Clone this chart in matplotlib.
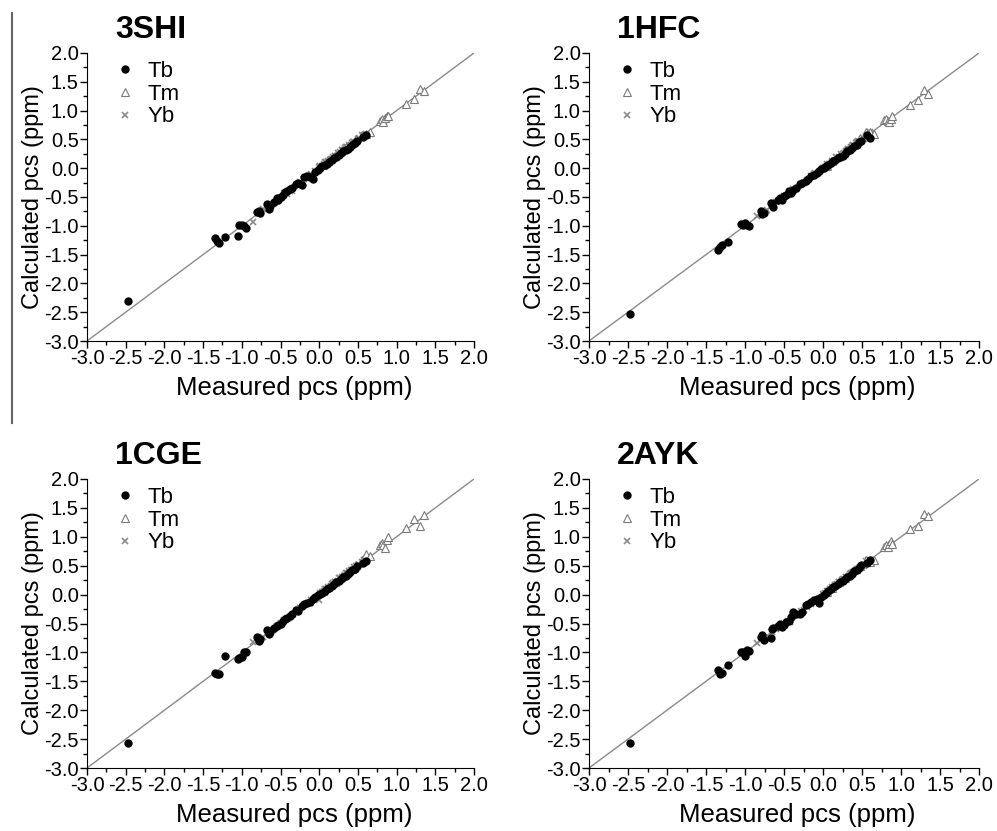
import numpy as np
from matplotlib import pyplot as plt
from matplotlib.lines import Line2D
from matplotlib.ticker import MultipleLocator

plt.rcParams['font.family'] = ['Liberation Sans', 'DejaVu Sans']

# measured pcs are the same for every structure
tb_measured = [-2.47, -1.35, -1.32, -1.29, -1.22, -1.05, -1.03, -1.00, -0.97, -0.95,
               -0.80, -0.78, -0.76, -0.67, -0.65, -0.64, -0.58, -0.55, -0.53, -0.50,
               -0.47, -0.44, -0.41, -0.38, -0.35, -0.30, -0.27, -0.22, -0.19, -0.16,
               -0.12, -0.08, -0.05, -0.02, 0.01, 0.04, 0.07, 0.10, 0.13, 0.16,
               0.19, 0.22, 0.25, 0.28, 0.31, 0.34, 0.37, 0.40, 0.43, 0.46,
               0.49, 0.57, 0.60]
tm_measured = [0.05, 0.12, 0.20, 0.28, 0.35, 0.42, 0.48, 0.55, 0.60, 0.65,
               0.78, 0.81, 0.83, 0.85, 0.87, 0.89, 1.12, 1.22, 1.30, 1.35]
yb_measured = [-0.85, -0.72, -0.60, -0.50, -0.42, -0.35, -0.28, -0.20, -0.15, -0.10,
               -0.05, 0.00, 0.03, 0.06, 0.09, 0.12, 0.15, 0.18, 0.21, 0.24,
               0.27, 0.30, 0.33, 0.36, 0.39, 0.42, 0.45, 0.50, 0.55, 0.60,
               -0.65, -0.55, -0.45, -0.38, -0.25, -0.12, 0.01, 0.05, 0.08, 0.11,
               0.14, 0.17, 0.20, 0.23, 0.26, 0.29, 0.32, 0.35, 0.38, 0.41,
               0.44, 0.47, 0.52, 0.58]

structures = ["3SHI", "1HFC", "1CGE", "2AYK"]

tb_calc_3shi = [-2.30, -1.22, -1.27, -1.30, -1.19, -1.18, -0.98, -0.99, -1.00, -1.03,
                -0.76, -0.75, -0.78, -0.63, -0.70, -0.66, -0.58, -0.52, -0.55, -0.50,
                -0.46, -0.42, -0.40, -0.36, -0.34, -0.27, -0.25, -0.30, -0.15, -0.13,
                -0.16, -0.18, -0.07, -0.03, 0.00, 0.03, 0.06, 0.08, 0.11, 0.14,
                0.17, 0.20, 0.23, 0.26, 0.29, 0.31, 0.34, 0.37, 0.41, 0.44,
                0.47, 0.55, 0.58]
tb_calc_1hfc = [-2.53, -1.42, -1.36, -1.33, -1.28, -0.97, -0.98, -0.96, -0.99, -1.00,
                -0.75, -0.80, -0.78, -0.60, -0.63, -0.68, -0.55, -0.52, -0.56, -0.48,
                -0.46, -0.40, -0.43, -0.37, -0.34, -0.28, -0.26, -0.22, -0.18, -0.14,
                -0.11, -0.09, -0.05, -0.02, 0.00, 0.03, 0.06, 0.09, 0.12, 0.14,
                0.17, 0.19, 0.22, 0.25, 0.29, 0.32, 0.35, 0.38, 0.41, 0.45,
                0.47, 0.58, 0.53]
tb_calc_1cge = [-2.57, -1.36, -1.37, -1.37, -1.07, -1.12, -1.10, -1.08, -0.99, -1.00,
                -0.74, -0.80, -0.77, -0.62, -0.68, -0.65, -0.57, -0.55, -0.53, -0.50,
                -0.45, -0.43, -0.40, -0.37, -0.33, -0.26, -0.28, -0.20, -0.16, -0.14,
                -0.13, -0.08, -0.05, -0.01, 0.01, 0.03, 0.07, 0.09, 0.12, 0.15,
                0.18, 0.21, 0.24, 0.27, 0.30, 0.33, 0.36, 0.39, 0.42, 0.45,
                0.50, 0.55, 0.58]
tb_calc_2ayk = [-2.57, -1.30, -1.37, -1.35, -1.21, -0.99, -1.00, -1.07, -0.95, -0.97,
                -0.74, -0.70, -0.78, -0.75, -0.60, -0.58, -0.55, -0.50, -0.56, -0.52,
                -0.48, -0.45, -0.38, -0.30, -0.33, -0.34, -0.30, -0.18, -0.16, -0.12,
                -0.10, -0.08, -0.15, -0.04, 0.00, 0.03, 0.06, 0.10, 0.13, 0.15,
                0.18, 0.21, 0.24, 0.27, 0.30, 0.32, 0.36, 0.40, 0.43, 0.46,
                0.52, 0.55, 0.60]

tm_calc_3shi = [0.06, 0.12, 0.22, 0.30, 0.36, 0.44, 0.50, 0.58, 0.60, 0.62,
                0.82, 0.85, 0.80, 0.88, 0.90, 0.90, 1.12, 1.21, 1.38, 1.34]
tm_calc_1hfc = [0.04, 0.13, 0.21, 0.31, 0.38, 0.45, 0.52, 0.62, 0.62, 0.60,
                0.84, 0.86, 0.82, 0.80, 0.86, 0.90, 1.10, 1.19, 1.36, 1.29]
tm_calc_1cge = [0.06, 0.14, 0.22, 0.30, 0.37, 0.44, 0.51, 0.60, 0.70, 0.66,
                0.85, 0.90, 0.86, 0.80, 0.95, 0.99, 1.16, 1.30, 1.19, 1.37]
tm_calc_2ayk = [0.05, 0.11, 0.21, 0.29, 0.37, 0.45, 0.50, 0.60, 0.57, 0.60,
                0.83, 0.85, 0.82, 0.88, 0.92, 0.87, 1.13, 1.18, 1.40, 1.36]

yb_calc_3shi = [-0.93, -0.70, -0.62, -0.52, -0.45, -0.40, -0.30, -0.19, -0.14, -0.10,
                -0.04, 0.02, 0.04, 0.07, 0.10, 0.12, 0.16, 0.19, 0.21, 0.26,
                0.28, 0.31, 0.35, 0.36, 0.41, 0.43, 0.46, 0.51, 0.57, 0.60,
                -0.66, -0.57, -0.43, -0.40, -0.24, -0.13, 0.03, 0.04, 0.10, 0.10,
                0.15, 0.16, 0.22, 0.22, 0.25, 0.31, 0.31, 0.37, 0.37, 0.40,
                0.46, 0.46, 0.53, 0.57]
yb_calc_1hfc = [-0.83, -0.73, -0.58, -0.48, -0.40, -0.36, -0.27, -0.21, -0.13, -0.08,
                -0.06, 0.01, 0.02, 0.05, 0.08, 0.11, 0.13, 0.17, 0.20, 0.22,
                0.26, 0.30, 0.32, 0.37, 0.40, 0.44, 0.47, 0.50, 0.56, 0.62,
                -0.63, -0.56, -0.47, -0.36, -0.26, -0.10, 0.00, 0.07, 0.07, 0.13,
                0.12, 0.19, 0.18, 0.25, 0.24, 0.28, 0.34, 0.33, 0.40, 0.39,
                0.46, 0.45, 0.50, 0.60]
yb_calc_1cge = [-0.82, -0.74, -0.61, -0.49, -0.41, -0.36, -0.26, -0.18, -0.15, -0.09,
                -0.06, -0.10, 0.04, 0.06, 0.10, 0.13, 0.15, 0.20, 0.22, 0.24,
                0.29, 0.31, 0.34, 0.37, 0.40, 0.42, 0.47, 0.52, 0.56, 0.61,
                -0.67, -0.54, -0.44, -0.39, -0.23, -0.14, 0.02, 0.03, 0.09, 0.12,
                0.12, 0.19, 0.21, 0.21, 0.28, 0.27, 0.33, 0.37, 0.36, 0.43,
                0.42, 0.49, 0.51, 0.59]
yb_calc_2ayk = [-0.84, -0.71, -0.60, -0.53, -0.47, -0.34, -0.29, -0.21, -0.16, -0.09,
                -0.12, 0.01, 0.03, 0.07, 0.09, 0.12, 0.16, 0.18, 0.22, 0.25,
                0.27, 0.31, 0.33, 0.37, 0.38, 0.43, 0.45, 0.50, 0.58, 0.59,
                -0.64, -0.57, -0.46, -0.37, -0.27, -0.11, -0.01, 0.06, 0.07, 0.13,
                0.13, 0.16, 0.22, 0.21, 0.27, 0.30, 0.30, 0.36, 0.39, 0.40,
                0.45, 0.48, 0.50, 0.60]

tb_calc = [tb_calc_3shi, tb_calc_1hfc, tb_calc_1cge, tb_calc_2ayk]
tm_calc = [tm_calc_3shi, tm_calc_1hfc, tm_calc_1cge, tm_calc_2ayk]
yb_calc = [yb_calc_3shi, yb_calc_1hfc, yb_calc_1cge, yb_calc_2ayk]

axis_range = [-3.0, 2.0]

W, H = 997, 831
# axes boxes in pixels: left, top, right, bottom
boxes = [(87, 53, 474, 341), (589, 53, 979, 341),
         (87, 479, 474, 768), (589, 479, 979, 768)]

fig = plt.figure(figsize=(W / 100, H / 100), dpi=100)

for i, name in enumerate(structures):
    l, t, r, b = boxes[i]
    ax = fig.add_axes([l / W, 1 - b / H, (r - l) / W, (b - t) / H])
    ax.plot(axis_range, axis_range, color='#8a8a8a', lw=1.0, zorder=1)
    ax.plot(tb_measured, tb_calc[i], linestyle='none', marker='o', ms=5,
            color='black', label='Tb', zorder=4)
    ax.plot(tm_measured, tm_calc[i], linestyle='none', marker='^', ms=6,
            mfc='white', mec='#7a7a7a', mew=0.8, label='Tm', zorder=3)
    ax.plot(yb_measured, yb_calc[i], linestyle='none', marker='x', ms=4,
            color='#8a8a8a', mew=1.2, label='Yb', zorder=2)

    ax.set_xlim(axis_range)
    ax.set_ylim(axis_range)
    for side in ['top', 'right']:
        ax.spines[side].set_visible(False)
    ax.xaxis.set_major_locator(MultipleLocator(0.5))
    ax.yaxis.set_major_locator(MultipleLocator(0.5))
    ax.xaxis.set_minor_locator(MultipleLocator(0.25))
    ax.yaxis.set_minor_locator(MultipleLocator(0.25))
    ax.xaxis.set_major_formatter(lambda v, p: f"{v:.1f}")
    ax.yaxis.set_major_formatter(lambda v, p: f"{v:.1f}")
    ax.tick_params(which='major', direction='out', length=5, width=1, labelsize=14.5, pad=1)
    ax.tick_params(which='minor', direction='out', length=3, width=1)

    ax.set_xlabel("Measured pcs (ppm)", fontsize=18.5)
    ax.set_ylabel("Calculated pcs (ppm)", fontsize=17)
    ax.xaxis.set_label_coords(0.535, -0.12)
    ax.yaxis.set_label_coords(-0.11, 0.5)

    ax.text(0.072, 1.052, name, transform=ax.transAxes, fontsize=23,
            fontweight='bold', va='baseline', ha='left')

    ax.legend(loc='upper left', bbox_to_anchor=(0.073, 0.973), frameon=False,
              fontsize=16, handlelength=0.9, handletextpad=0.55, labelspacing=0.08,
              borderpad=0, borderaxespad=0)

fig.add_artist(Line2D([12 / W, 12 / W], [1 - 13 / H, 1 - 423 / H],
                      color='#666666', lw=1.5))

plt.savefig("out.png", dpi=100)
